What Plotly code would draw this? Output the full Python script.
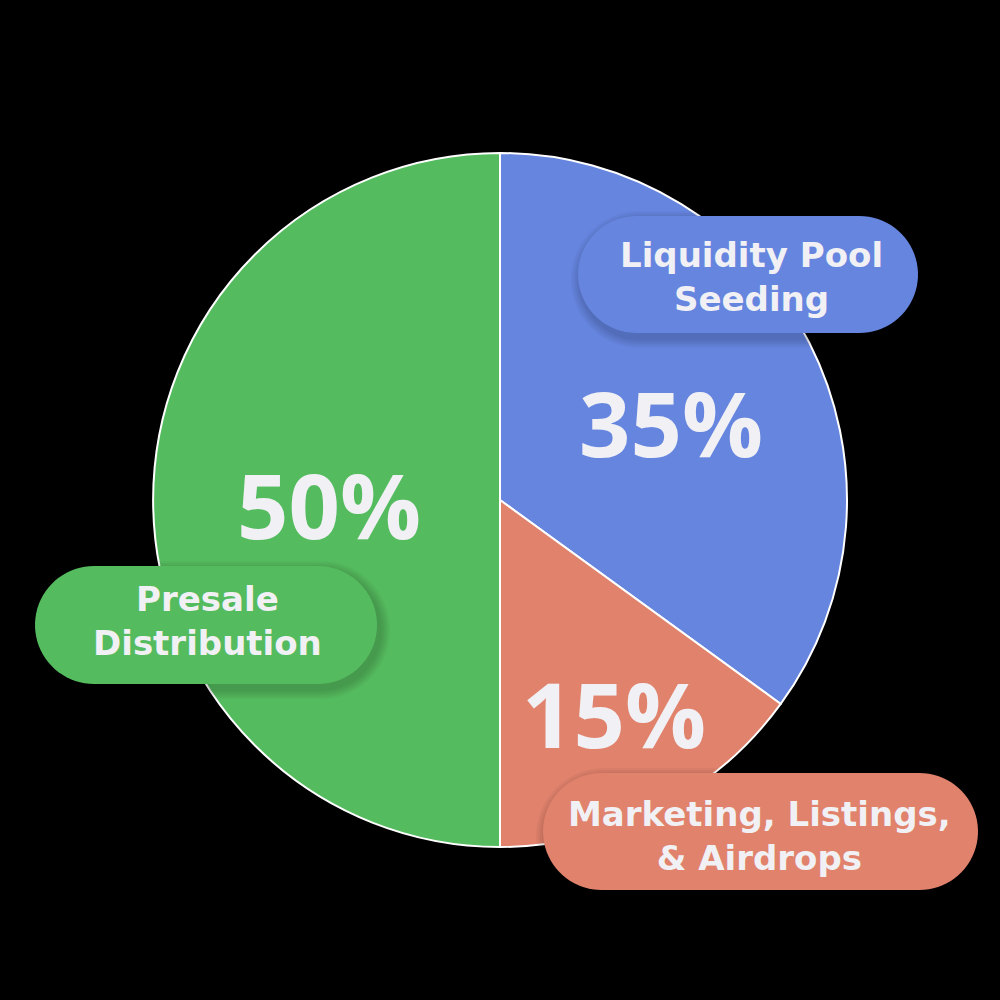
import numpy as np
import plotly.graph_objects as go

# ---- data ----
categories = ["Liquidity Pool Seeding", "Marketing, Listings, & Airdrops", "Presale Distribution"]
values = [35, 15, 50]
box_labels = ["Liquidity Pool<br>Seeding", "Marketing, Listings,<br>& Airdrops", "Presale<br>Distribution"]
colors = ["#6685DF", "#E0826C", "#55BB5F"]

W = H = 1000
LABEL_FONT = "DejaVu Sans"
PCT_FONT = "Open Sans"
TXT = "#F1F1F5"

fig = go.Figure()
fig.add_trace(go.Pie(
    labels=categories, values=values, sort=False, direction="clockwise", rotation=0,
    marker=dict(colors=colors, line=dict(color="white", width=2)),
    textinfo="none", hoverinfo="label+percent", showlegend=False,
    domain=dict(x=[0.153, 0.847], y=[0.153, 0.847]),
))

# pill boxes (pixel coords: x0, y0, x1, y1)
boxes = [(578, 216, 918, 333), (543, 773, 978, 890), (35, 566, 377, 684)]
label_pos = [(751, 277), (759, 836), (207, 621)]
pct_pos = [(671, 422), (614, 713), (329, 504)]


def pill_path(x0, y0, x1, y1):
    r = (y1 - y0) / 2
    cy = (y0 + y1) / 2
    pts = []
    for a in np.linspace(-np.pi / 2, np.pi / 2, 40):  # right cap
        pts.append((x1 - r + r * np.cos(a), cy + r * np.sin(a)))
    for a in np.linspace(np.pi / 2, 3 * np.pi / 2, 40):  # left cap
        pts.append((x0 + r + r * np.cos(a), cy + r * np.sin(a)))
    s = "M " + " L ".join(f"{px / W:.5f},{1 - py / H:.5f}" for px, py in pts) + " Z"
    return s

shapes = []
for (x0, y0, x1, y1), c in zip(boxes, colors):
    # soft shadow layers
    for k in [10, 8, 6, 4, 2]:
        shapes.append(dict(type="path", xref="paper", yref="paper",
                           path=pill_path(x0 - k + 3, y0 - k + 5, x1 + k + 3, y1 + k + 5),
                           fillcolor="black", opacity=0.035, line=dict(width=0), layer="above"))
    shapes.append(dict(type="path", xref="paper", yref="paper",
                       path=pill_path(x0, y0, x1, y1), fillcolor=c,
                       line=dict(width=0), layer="above"))

annotations = []
for lab, (px, py) in zip(box_labels, label_pos):
    annotations.append(dict(x=px / W, y=1 - py / H, xref="paper", yref="paper",
                            text=lab, showarrow=False, align="center",
                            font=dict(family=LABEL_FONT, size=34, color=TXT, weight=700),
                            xanchor="center", yanchor="middle"))
for (px, py), v in zip(pct_pos, values):
    annotations.append(dict(x=px / W, y=1 - py / H, xref="paper", yref="paper",
                            text=f"{v}%", showarrow=False,
                            font=dict(family=PCT_FONT, size=90, color=TXT, weight=700),
                            xanchor="center", yanchor="middle"))

fig.update_layout(width=W, height=H, margin=dict(l=0, r=0, t=0, b=0),
                  paper_bgcolor="black", plot_bgcolor="black",
                  shapes=shapes, annotations=annotations)
fig.write_html("out.html")
